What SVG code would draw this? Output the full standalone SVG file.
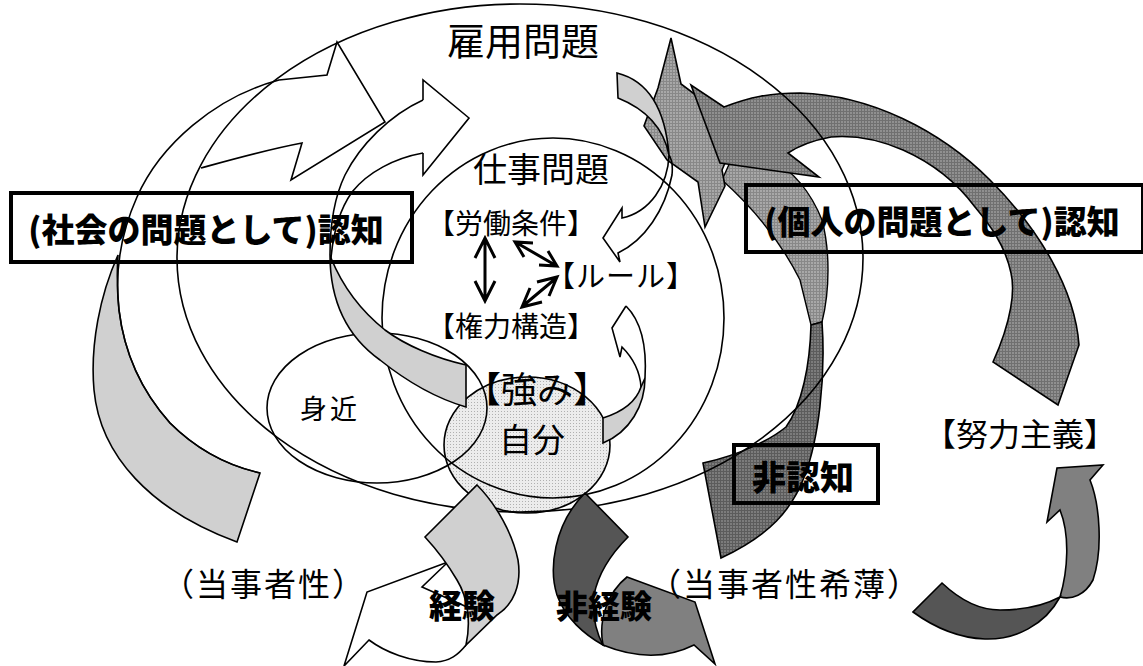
<svg xmlns="http://www.w3.org/2000/svg" width="1143" height="666" viewBox="0 0 1143 666">
<defs>
<pattern id="dots" width="3" height="3" patternUnits="userSpaceOnUse"><rect width="3" height="3" fill="#ececec"/><rect width="1" height="1" fill="#b0b0b0"/></pattern>
<pattern id="grid" width="3" height="3" patternUnits="userSpaceOnUse"><rect width="3" height="3" fill="#a8a8a8"/><rect width="3" height="1" fill="#888"/><rect width="1" height="3" fill="#888"/></pattern>
<pattern id="grid2" width="3" height="3" patternUnits="userSpaceOnUse"><rect width="3" height="3" fill="#909090"/><rect width="3" height="1" fill="#707070"/><rect width="1" height="3" fill="#707070"/></pattern>
<pattern id="grid3" width="3" height="3" patternUnits="userSpaceOnUse"><rect width="3" height="3" fill="#7c7c7c"/><rect width="3" height="1" fill="#5c5c5c"/><rect width="1" height="3" fill="#5c5c5c"/></pattern>
<style>
.ln{fill:none;stroke:#000;stroke-width:1.6;stroke-linejoin:miter}
.lg{fill:#d0d0d0;stroke:#000;stroke-width:1.6}
.box{fill:none;stroke:#000;stroke-width:4}
.t{font-family:"Noto Sans CJK JP","Noto Sans CJK SC",sans-serif;fill:#000;text-anchor:middle;dominant-baseline:central}
.b{font-weight:900}
.cn{fill:none;stroke:#000;stroke-width:3;stroke-linecap:butt;stroke-linejoin:miter}
</style>
</defs>
<rect width="1143" height="666" fill="#fff"/>

<g id="self-fill"><ellipse cx="527" cy="445" rx="83" ry="68" fill="url(#dots)"/></g>

<g id="dark-arrows">
<path d="M722,180 C750,205 780,240 800,280 L811,325 L822,322 C830,290 830,250 822,220 C812,195 795,172 770,158 L740,140 Z" fill="url(#grid)" stroke="#000" stroke-width="1.4"/>
<path d="M671,38 L681,84 L740,128 L722,170 L725,186 L705,227 L698,182 L667,160 L644,126 L658,88 Z" fill="url(#grid)" stroke="#000" stroke-width="1.6"/>
<path d="M822,322 C826,380 818,440 805,475 C792,510 770,535 721,558 L703,463 C740,455 770,440 786,427 C802,405 810,365 811,325 Z" fill="url(#grid3)" stroke="#000" stroke-width="1.6"/>
<path d="M724,107 C750,97 770,93 800,93 C870,95 940,130 990,180 C1040,230 1075,290 1079,345 L1058,405 L993,362 C1012,320 1015,290 1011,273 C1005,245 990,225 975,207 C955,180 930,162 903,150 C880,140 855,135 831,137 C815,140 800,145 788,153 L819,177 L720,163 L691,85 Z" fill="url(#grid2)" stroke="#000" stroke-width="1.6"/>
</g>

<g id="ellipses">
<ellipse class="ln" cx="520" cy="258" rx="343" ry="254"/>
<ellipse class="ln" cx="553" cy="318" rx="171" ry="180"/>
<ellipse class="ln" cx="377" cy="408" rx="110" ry="75"/>
<ellipse class="ln" cx="527" cy="445" rx="83" ry="68"/>
</g>

<g id="arrow-social-outer">
<path class="lg" d="M118,255 C100,295 90,345 94,390 C100,455 150,510 237,542 L260,473 C225,465 195,448 170,423 C145,395 125,360 119,310 C117,290 117,270 118,255 Z"/>
<path class="ln" d="M260,473 C225,465 195,448 170,423 C145,395 125,360 119,310 C115,275 120,235 137,197 C160,145 215,97 279,80 L327,75 L337,42 L385,122 L291,180 L302,143 C265,150 230,160 201,168"/>
</g>

<g id="arrow-social-inner">
<path class="ln" d="M423,100 C390,115 360,145 345,175 C333,200 330,230 330,255"/>
<path class="ln" d="M423,153 C395,158 368,172 352,192 C338,212 333,235 331,258"/>
<path class="ln" d="M423,100 L423,80 L469,118 L423,175 L423,153"/>
<path class="lg" d="M330,255 C330,300 345,335 380,360 C405,380 435,398 466,407 L466,365 C435,358 405,345 385,330 C360,310 342,285 331,258 Z"/>
</g>

<g id="arrow-self-up">
<path class="ln" d="M626,306 C640,320 647,345 645,378"/>
<path class="ln" d="M626,306 L612,328 L620,357 L622,347 C633,358 640,372 641,387"/>
<path class="lg" d="M645,378 C645,405 630,432 603,443 L603,418 C622,412 636,402 641,387 Z"/>
</g>

<g id="arrow-rule-down">
<path class="lg" d="M617,73 C645,80 665,105 669,155 C664,130 648,110 618,98 Z"/>
<path class="ln" d="M669,155 C668,185 650,212 622,218 L622,208 L603,238 L620,262 L618,253 C645,240 665,210 672,175 C673,165 671,158 669,155"/>
</g>

<g id="arrow-experience">
<path class="ln" d="M448,562 L367,592 L344,666 L369,640 C385,652 410,662 436,662 C450,661 458,655 466,645"/>
<path class="ln" d="M448,562 L422,587 L467,607"/>
<path class="lg" d="M477,485 C497,505 513,535 518,560 C522,585 513,605 497,615 L466,645 C471,622 468,598 457,580 C447,563 437,550 425,537 Z"/>
</g>

<g id="arrow-nonexperience">
<path d="M627,577 L695,602 L715,664 L694,645 C670,657 640,660 603,645 C598,620 608,592 627,577 Z" fill="#808080" stroke="#000" stroke-width="1.6"/>
<path d="M585,493 L628,537 C610,555 598,575 594,595 C592,615 596,632 603,645 C585,635 565,618 557,595 C549,570 553,525 585,493 Z" fill="#555" stroke="#000" stroke-width="1.6"/>
</g>

<g id="arrow-effort">
<path d="M1060,597 C1068,570 1070,535 1060,510 L1047,522 L1057,468 L1103,465 L1090,480 C1100,505 1103,550 1093,580 C1085,595 1072,600 1060,597 Z" fill="#808080" stroke="#000" stroke-width="1.6"/>
<path d="M913,612 C935,628 960,638 985,639 C1015,640 1045,625 1060,597 C1045,605 1025,610 1000,610 C980,610 960,600 942,583 Z" fill="#555" stroke="#000" stroke-width="1.6"/>
</g>

<g id="box-social"><rect class="box" x="11" y="193" width="401" height="69"/>
<text class="t b" x="206" y="228" font-size="33">(社会の問題として)認知</text></g>
<g id="box-personal"><rect class="box" x="746" y="185" width="397" height="67"/>
<text class="t b" x="942" y="220" font-size="33">(個人の問題として)認知</text></g>
<g id="box-noncog"><rect class="box" x="734" y="445" width="144" height="58"/>
<text class="t b" x="803" y="475" font-size="34">非認知</text></g>

<g id="labels">
<text class="t" x="523" y="38" font-size="38">雇用問題</text>
<text class="t" x="541" y="167" font-size="34">仕事問題</text>
<text class="t" x="511" y="222" font-size="28">【労働条件】</text>
<text class="t" x="621" y="274" font-size="29" letter-spacing="1">【ルール】</text>
<text class="t" x="511" y="325" font-size="28">【権力構造】</text>
<text class="t" x="537" y="387" font-size="36">【強み】</text>
<text class="t" x="532" y="438" font-size="33">自分</text>
<text class="t" x="330" y="407" font-size="27" letter-spacing="3">身近</text>
<text class="t" x="264" y="582" font-size="32" letter-spacing="2">（当事者性）</text>
<text class="t" x="785" y="582" font-size="32" letter-spacing="2">（当事者性希薄）</text>
<text class="t" x="1020" y="432" font-size="32">【努力主義】</text>
<text class="t b" x="462" y="604" font-size="33">経験</text>
<text class="t b" x="604" y="604" font-size="32">非経験</text>
</g>

<g id="connectors">
<path class="cn" d="M485,240 L485,299 M475,258 L485,238 L495,258 M475,281 L485,301 L495,281"/>
<path class="cn" d="M517,243 L555,265 M524,257 L515,242 L533,243 M539,265 L557,266 L548,251"/>
<path class="cn" d="M555,279 L524,305 M537,282 L557,277 L549,296 M530,288 L522,307 L542,302"/>
</g>
</svg>
